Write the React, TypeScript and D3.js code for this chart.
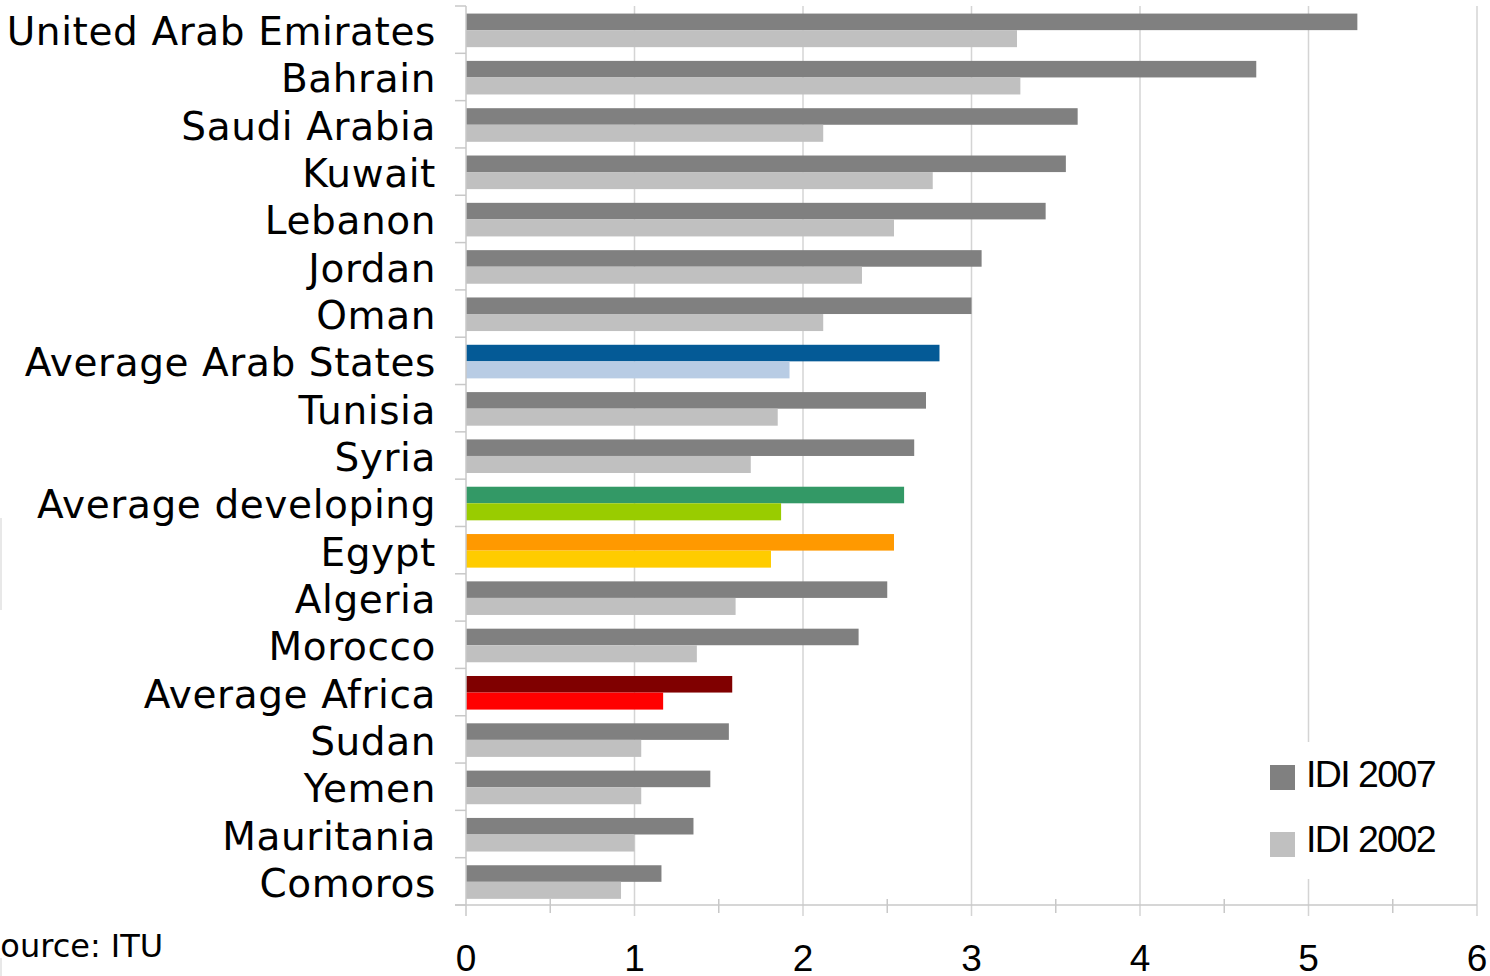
import React from "react";
import * as d3 from "d3";

const categories = [
  "United Arab Emirates", "Bahrain", "Saudi Arabia", "Kuwait", "Lebanon", "Jordan", "Oman",
  "Average Arab States", "Tunisia", "Syria", "Average developing", "Egypt", "Algeria", "Morocco",
  "Average Africa", "Sudan", "Yemen", "Mauritania", "Comoros",
];
const idi2007 = [5.29, 4.69, 3.63, 3.56, 3.44, 3.06, 3.0, 2.81, 2.73, 2.66, 2.6, 2.54, 2.5, 2.33, 1.58, 1.56, 1.45, 1.35, 1.16];
const idi2002 = [3.27, 3.29, 2.12, 2.77, 2.54, 2.35, 2.12, 1.92, 1.85, 1.69, 1.87, 1.81, 1.6, 1.37, 1.17, 1.04, 1.04, 1.0, 0.92];
const xTicks = [0, 1, 2, 3, 4, 5, 6];
const seriesNames = ["IDI 2007", "IDI 2002"];

const defaultColors = ["#808080", "#c0c0c0"];
const specialColors: Record<string, [string, string]> = {
  "Average Arab States": ["#045a96", "#b8cce4"],
  "Average developing": ["#339966", "#99cc00"],
  "Egypt": ["#ff9900", "#ffcc00"],
  "Average Africa": ["#800000", "#ff0000"],
};

export default function App() {
  const W = 1490, H = 976;
  const left = 466, right = 1477, top = 6, bottom = 905;
  const x = d3.scaleLinear().domain([0, 6]).range([left, right]);
  const y = d3.scaleBand<string>().domain(categories).range([top, bottom]);
  const bh = y.bandwidth();
  const minor = d3.range(0.5, 6, 1);
  const gridColor = "#d4d4d4";
  const labelFont = "'DejaVu Sans', Verdana, sans-serif";
  const numFont = "'Liberation Sans', Arial, sans-serif";

  return (
    <svg width={W} height={H} style={{ position: "absolute", left: 0, top: 0, background: "#fff" }}>
      <rect x={0} y={0} width={W} height={H} fill="#fff" />
      {/* faint frame remnants */}
      <line x1={1} x2={1} y1={518} y2={610} stroke="#e8e8e8" strokeWidth={2} />
      <line x1={1} x2={1} y1={958} y2={976} stroke="#e8e8e8" strokeWidth={2} />
      {/* gridlines */}
      {xTicks.slice(1).map((t) => (
        <line key={"g" + t} x1={x(t)} x2={x(t)} y1={top} y2={bottom + 11} stroke={gridColor} strokeWidth={1.5} />
      ))}
      {/* bars */}
      {categories.map((c, i) => {
        const y0 = y(c)!;
        const cols = specialColors[c] || defaultColors;
        return (
          <g key={c}>
            <rect x={x(0)} y={y0 + bh * 0.16} width={x(idi2007[i]) - x(0)} height={bh * 0.35} fill={cols[0]} />
            <rect x={x(0)} y={y0 + bh * 0.51} width={x(idi2002[i]) - x(0)} height={bh * 0.36} fill={cols[1]} />
          </g>
        );
      })}
      {/* y axis */}
      <line x1={left} x2={left} y1={top} y2={bottom + 11} stroke="#c8c8c8" strokeWidth={1.5} />
      {categories.concat(["__end"]).map((c, i) => {
        const yy = top + i * bh;
        return <line key={"yt" + i} x1={left - 11} x2={left} y1={yy} y2={yy} stroke="#c8c8c8" strokeWidth={1.5} />;
      })}
      {/* x axis */}
      <line x1={left - 11} x2={right} y1={bottom} y2={bottom} stroke="#c8c8c8" strokeWidth={1.5} />
      {minor.map((t) => (
        <line key={"m" + t} x1={x(t)} x2={x(t)} y1={bottom - 6} y2={bottom + 8} stroke="#c8c8c8" strokeWidth={1.5} />
      ))}
      {xTicks.map((t) => (
        <text key={"xl" + t} x={x(t)} y={971} textAnchor="middle" fontFamily={numFont} fontSize={37} fill="#000">
          {t}
        </text>
      ))}
      {/* category labels */}
      {categories.map((c) => (
        <text key={"l" + c} x={436} y={y(c)! + bh / 2 + 15.5} textAnchor="end" fontFamily={labelFont} fontSize={39} letterSpacing={0.6} fill="#000">
          {c}
        </text>
      ))}
      {/* legend */}
      <rect x={1252} y={742} width={212} height={137} fill="#fff" />
      {seriesNames.map((s, i) => (
        <g key={s}>
          <rect x={1270} y={765 + i * 67} width={25} height={25} fill={defaultColors[i]} />
          <text x={1306} y={787 + i * 65} fontFamily={numFont} fontSize={37.5} letterSpacing={-1.6} fill="#000">
            {s}
          </text>
        </g>
      ))}
      {/* source */}
      <text x={-20} y={957} fontFamily={labelFont} fontSize={32} fill="#000">Source: ITU</text>
    </svg>
  );
}
